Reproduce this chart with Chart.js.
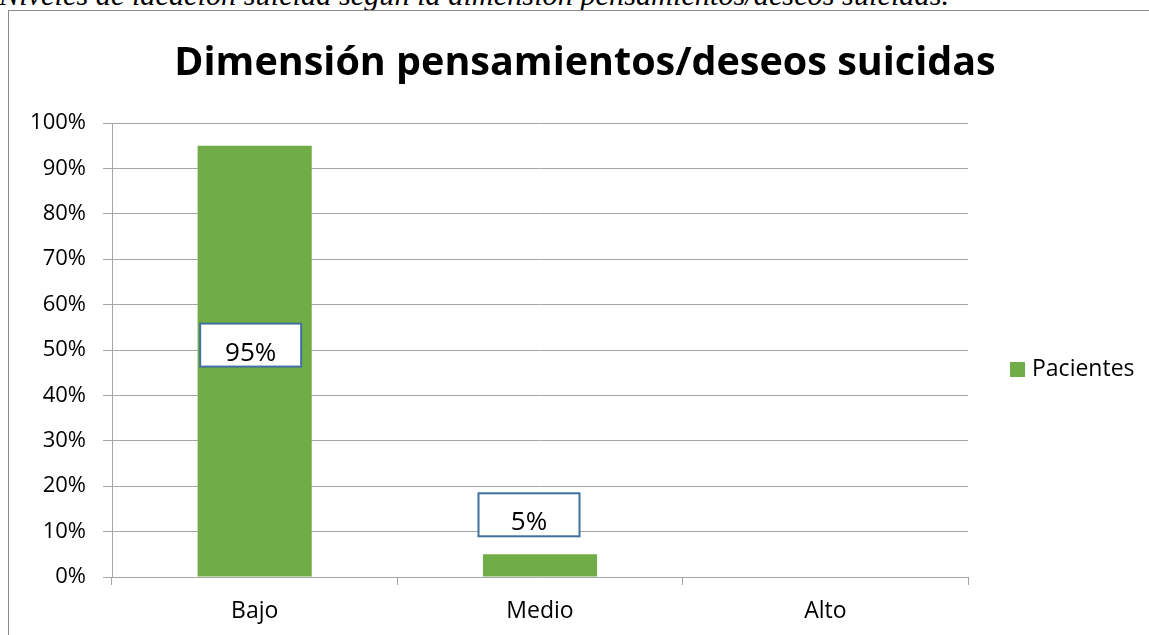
<!DOCTYPE html>
<html>
<head>
<meta charset="utf-8">
<title>Dimensión pensamientos/deseos suicidas</title>
<script src="https://cdn.jsdelivr.net/npm/chart.js@4.4.1/dist/chart.umd.min.js"></script>
<style>
  html, body { margin: 0; padding: 0; background: #fff; overflow: hidden; }
  #caption {
    position: absolute; left: -1px; top: -20px;
    font: italic 30.3px "Liberation Serif", "Times New Roman", serif;
    line-height: 1; white-space: nowrap; color: #000;
  }
  #frame {
    position: absolute; left: 8px; top: 10px; width: 1200px; height: 700px;
    border: 1px solid #8a8a8a;
  }
  #chart { position: absolute; left: 0; top: 0; }
</style>
</head>
<body>
<div id="caption">Niveles de ideación suicida según la dimensión pensamientos/deseos suicidas.</div>
<div id="frame"></div>
<canvas id="chart" width="1149" height="635"></canvas>
<script>
// Chart data
const categories = ['Bajo', 'Medio', 'Alto'];
const pacientes = [95, 5, 0];
const seriesName = 'Pacientes';
const chartTitle = 'Dimensión pensamientos/deseos suicidas';

const barColor = '#70ad47';
const gridColor = '#a6a6a6';
const fontFamily = '"Open Sans", "Noto Sans", sans-serif';

// Title, legend and boxed value labels drawn the way Excel does
const excelExtras = {
    id: 'excelExtras',
    afterDatasetsDraw(chart) {
        const ctx = chart.ctx;
        const meta = chart.getDatasetMeta(0);
        const values = chart.data.datasets[0].data;
        ctx.save();
        meta.data.forEach((bar, i) => {
            const v = values[i];
            if (!v) return;
            const w = 101, h = 43;
            const inside = (bar.base - bar.y) > h + 20;
            const cx = inside ? bar.x - 4 : bar.x - 11;
            const cy = inside ? (bar.y + bar.base) / 2 - 16 : bar.y - 18 - h / 2;
            ctx.fillStyle = '#fff';
            ctx.fillRect(cx - w / 2, cy - h / 2, w, h);
            ctx.strokeStyle = '#41719c';
            ctx.lineWidth = 2;
            ctx.strokeRect(cx - w / 2, cy - h / 2, w, h);
            ctx.fillStyle = '#000';
            ctx.font = '26px ' + fontFamily;
            ctx.textAlign = 'center';
            ctx.textBaseline = 'middle';
            ctx.fillText(v + '%', cx, cy + 8);
        });
        ctx.restore();
    },
    afterDraw(chart) {
        const ctx = chart.ctx;
        const area = chart.chartArea;
        ctx.save();
        // title
        ctx.fillStyle = '#000';
        ctx.font = 'bold 39.5px ' + fontFamily;
        ctx.textAlign = 'center';
        ctx.textBaseline = 'middle';
        ctx.fillText(chartTitle, 585, 64);
        // legend
        const ly = (area.top + area.bottom) / 2 + 19;
        ctx.fillStyle = chart.data.datasets[0].backgroundColor;
        ctx.fillRect(area.right + 42, ly - 7, 15, 15);
        ctx.fillStyle = '#000';
        ctx.font = '23px ' + fontFamily;
        ctx.textAlign = 'left';
        ctx.fillText(chart.data.datasets[0].label, area.right + 64, ly);
        ctx.restore();
    }
};

const config = {
    type: 'bar',
    data: {
        labels: categories,
        datasets: [{
            label: seriesName,
            data: pacientes,
            backgroundColor: barColor,
            categoryPercentage: 0.8,
            barPercentage: 0.5
        }]
    },
    options: {
        responsive: false,
        animation: false,
        layout: { padding: { top: 123, right: 181, bottom: 0, left: 0 } },
        plugins: {
            legend: { display: false },
            title: { display: false },
            tooltip: { enabled: false }
        },
        scales: {
            x: {
                grid: { offset: true, drawOnChartArea: false, drawTicks: true, tickLength: 8, color: gridColor },
                border: { color: gridColor },
                ticks: { color: '#000', padding: 13, font: { family: fontFamily, size: 23 } },
                afterFit(scale) { scale.height = 58; }
            },
            y: {
                min: 0,
                max: 100,
                grid: { color: gridColor, tickLength: 9 },
                border: { color: gridColor },
                ticks: {
                    stepSize: 10,
                    color: '#000',
                    padding: 17,
                    font: { family: fontFamily, size: 22 },
                    callback: (v) => v + '%'
                },
                afterFit(scale) { scale.width = 112; }
            }
        }
    },
    plugins: [excelExtras]
};

const suicideChart = new Chart(document.getElementById('chart'), config);
</script>
</body>
</html>
